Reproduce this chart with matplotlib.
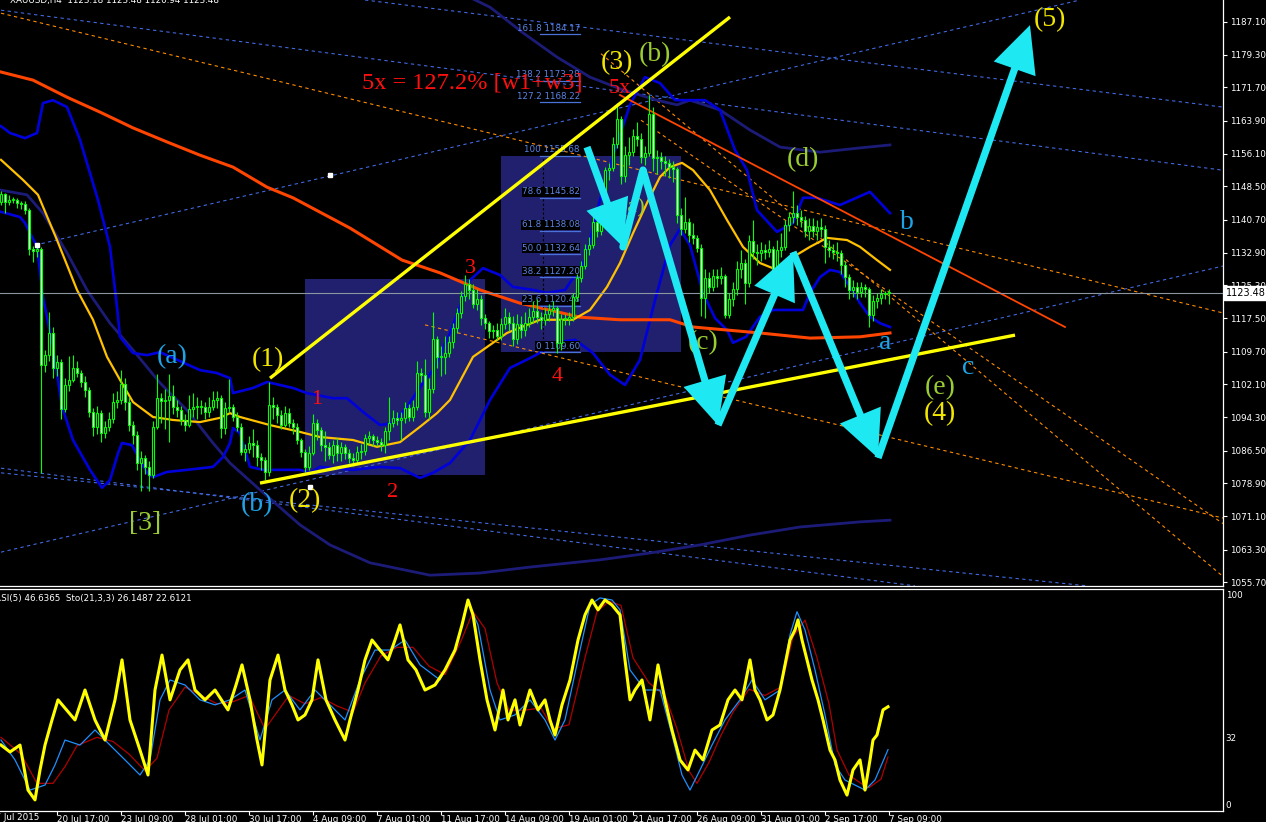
import numpy as np
import matplotlib
matplotlib.use('Agg')
import matplotlib.pyplot as plt
from matplotlib.patches import Rectangle
from matplotlib.transforms import blended_transform_factory

# ---- price bars (H4), open of each bar = previous close ----
open0 = 1144.8
closes = [
    1146.7, 1144.9, 1145.3, 1145.3, 1144.5, 1144.4, 1142.9, 1133.9, 1133.4, 1133.9,
    1106.6, 1108.9, 1114.2, 1105.8, 1107.4, 1096.2, 1101.9, 1103.1, 1106.0, 1104.8,
    1102.7, 1100.7, 1095.6, 1092.0, 1095.3, 1090.7, 1092.0, 1093.9, 1098.0, 1098.4,
    1102.1, 1097.8, 1092.5, 1090.2, 1083.5, 1084.7, 1082.6, 1080.8, 1092.1, 1098.8,
    1098.2, 1098.4, 1099.3, 1096.8, 1096.0, 1093.7, 1092.5, 1096.2, 1096.8, 1096.8,
    1096.8, 1095.6, 1096.8, 1098.5, 1098.8, 1091.7, 1096.4, 1096.8, 1094.5, 1092.1,
    1086.3, 1087.0, 1088.4, 1087.8, 1085.1, 1084.3, 1081.6, 1097.2, 1096.8, 1094.8,
    1092.5, 1095.4, 1092.9, 1092.1, 1089.0, 1086.3, 1082.7, 1086.0, 1093.1, 1091.3,
    1087.8, 1087.4, 1085.6, 1087.8, 1085.9, 1087.4, 1085.9, 1084.7, 1084.3, 1086.3,
    1086.5, 1089.4, 1089.9, 1089.0, 1088.6, 1087.8, 1091.2, 1093.1, 1094.1, 1093.7,
    1094.1, 1096.4, 1094.5, 1096.8, 1104.8, 1104.2, 1095.6, 1100.9, 1112.6, 1108.5,
    1108.5, 1109.3, 1111.9, 1115.2, 1118.9, 1122.8, 1125.6, 1124.2, 1121.0, 1122.0,
    1117.5, 1116.4, 1114.6, 1114.8, 1113.5, 1116.2, 1117.8, 1116.4, 1112.6, 1116.2,
    1114.8, 1116.4, 1117.8, 1119.3, 1117.9, 1117.1, 1118.5, 1119.6, 1119.9, 1111.7,
    1117.3, 1117.3, 1117.8, 1122.6, 1126.9, 1129.8, 1133.7, 1134.7, 1140.2, 1137.9,
    1140.0, 1152.3, 1152.7, 1158.4, 1164.2, 1150.9, 1155.8, 1156.6, 1160.3, 1159.7,
    1155.4, 1156.4, 1165.5, 1155.1, 1155.4, 1154.5, 1154.0, 1153.0, 1152.5, 1141.8,
    1138.6, 1140.2, 1137.1, 1136.3, 1134.0, 1122.2, 1126.9, 1125.0, 1127.5, 1126.9,
    1127.5, 1118.3, 1122.0, 1124.3, 1129.0, 1130.4, 1125.9, 1135.7, 1133.2, 1132.9,
    1133.6, 1133.2, 1133.7, 1128.1, 1133.6, 1134.3, 1139.4, 1141.2, 1142.2, 1141.4,
    1140.6, 1137.9, 1139.2, 1138.1, 1139.0, 1138.4, 1134.3, 1133.6, 1133.2, 1132.8,
    1130.0, 1127.3, 1124.2, 1125.0, 1123.8, 1124.8, 1124.3, 1118.3, 1121.7, 1122.2,
    1123.2, 1123.4, 1123.48]
highs = [
    1147.5, 1147.0, 1146.5, 1146.0, 1145.8, 1145.0, 1145.0, 1143.5, 1134.5, 1135.2,
    1134.2, 1110.0, 1119.1, 1115.5, 1109.0, 1108.0, 1103.5, 1108.8, 1109.0, 1107.5,
    1105.5, 1104.0, 1101.5, 1096.5, 1097.0, 1096.0, 1093.5, 1095.5, 1100.0, 1100.5,
    1105.5, 1103.5, 1099.0, 1093.5, 1091.0, 1086.5, 1085.5, 1084.0, 1093.5, 1104.5,
    1100.0, 1101.0, 1104.5, 1102.0, 1098.5, 1097.0, 1095.0, 1099.5, 1100.0, 1099.0,
    1098.5, 1098.0, 1099.0, 1100.5, 1100.5, 1099.5, 1098.0, 1103.2, 1097.5, 1095.5,
    1093.0, 1088.0, 1090.0, 1091.5, 1089.0, 1086.0, 1085.0, 1102.7, 1099.0, 1097.5,
    1096.0, 1097.0, 1096.5, 1094.0, 1093.0, 1089.5, 1087.0, 1087.5, 1095.0, 1094.0,
    1092.0, 1091.0, 1088.5, 1089.0, 1089.5, 1088.5, 1088.0, 1087.0, 1086.0, 1087.5,
    1088.0, 1090.5, 1091.0, 1090.5, 1090.0, 1089.5, 1092.0, 1099.2, 1096.0, 1095.5,
    1095.5, 1098.0, 1097.5, 1098.5, 1107.5, 1106.0, 1108.0, 1103.5, 1119.0, 1113.5,
    1111.0, 1113.5, 1113.5, 1116.5, 1120.0, 1124.0, 1127.8, 1126.8, 1125.5, 1124.5,
    1123.0, 1118.5, 1117.0, 1116.0, 1116.5, 1117.5, 1120.0, 1119.0, 1118.0, 1118.5,
    1118.0, 1119.0, 1120.0, 1121.5, 1122.0, 1119.0, 1120.0, 1121.0, 1121.5, 1120.5,
    1118.5, 1118.5, 1119.0, 1123.5, 1128.0, 1131.0, 1135.0, 1136.5, 1141.5, 1141.0,
    1142.0, 1153.0, 1154.0, 1160.0, 1168.0, 1165.0, 1158.0, 1160.0, 1162.0, 1163.5,
    1161.0, 1158.0, 1170.0, 1167.0, 1157.0, 1156.5, 1155.5, 1155.0, 1154.5, 1153.0,
    1143.5, 1146.0, 1141.0, 1140.0, 1137.0, 1135.0, 1129.0, 1128.5, 1129.0, 1129.0,
    1129.5, 1128.0, 1123.5, 1126.0, 1131.0, 1133.5, 1131.5, 1137.0, 1140.5, 1135.0,
    1135.5, 1135.0, 1136.0, 1134.5, 1136.0, 1137.5, 1140.5, 1142.5, 1147.5, 1144.0,
    1143.0, 1141.5, 1141.0, 1141.0, 1140.5, 1141.0, 1139.5, 1136.0, 1135.0, 1135.5,
    1133.5, 1131.0, 1128.0, 1126.5, 1126.0, 1126.0, 1125.5, 1125.0, 1123.0, 1123.5,
    1124.5, 1124.0, 1124.5]
lows = [
    1144.0, 1142.2, 1144.0, 1144.5, 1143.5, 1143.2, 1142.0, 1132.5, 1130.8, 1132.0,
    1081.2, 1105.0, 1107.5, 1103.5, 1104.0, 1094.0, 1095.5, 1100.5, 1102.5, 1103.8,
    1101.5, 1099.0, 1094.5, 1090.0, 1090.5, 1088.5, 1089.5, 1091.0, 1093.0, 1096.5,
    1097.5, 1096.0, 1091.0, 1088.0, 1082.0, 1077.0, 1081.0, 1077.0, 1080.0, 1091.5,
    1093.0, 1091.5, 1088.5, 1095.0, 1094.5, 1092.5, 1091.0, 1092.0, 1094.5, 1094.0,
    1095.0, 1094.0, 1094.5, 1096.0, 1096.5, 1089.5, 1090.5, 1095.5, 1093.5, 1091.0,
    1085.5, 1084.0, 1086.0, 1085.0, 1083.0, 1082.0, 1079.6, 1080.5, 1094.0, 1093.0,
    1091.5, 1092.0, 1092.0, 1090.5, 1088.0, 1085.0, 1081.5, 1082.0, 1085.5, 1089.0,
    1086.5, 1084.0, 1084.5, 1083.5, 1084.0, 1084.0, 1084.5, 1083.5, 1083.0, 1083.5,
    1084.5, 1085.5, 1088.0, 1087.5, 1087.5, 1086.5, 1086.0, 1089.0, 1092.0, 1092.5,
    1089.0, 1093.0, 1093.5, 1093.5, 1096.0, 1102.5, 1094.5, 1094.0, 1100.0, 1106.0,
    1104.0, 1104.5, 1108.5, 1110.5, 1114.0, 1117.5, 1121.5, 1122.0, 1120.0, 1119.5,
    1116.0, 1115.0, 1113.0, 1113.0, 1112.5, 1112.5, 1115.0, 1114.5, 1111.0, 1111.5,
    1113.0, 1113.5, 1115.5, 1116.5, 1116.5, 1115.0, 1116.0, 1117.0, 1118.0, 1109.3,
    1110.0, 1116.0, 1116.0, 1117.0, 1121.5, 1126.0, 1129.0, 1132.5, 1134.0, 1136.5,
    1137.0, 1139.5, 1150.0, 1152.0, 1157.5, 1149.0, 1149.5, 1153.5, 1155.5, 1158.0,
    1154.0, 1153.5, 1155.5, 1152.0, 1151.5, 1152.5, 1151.0, 1150.5, 1149.5, 1140.0,
    1137.0, 1137.5, 1135.5, 1135.0, 1133.0, 1118.0, 1117.5, 1123.5, 1124.0, 1125.0,
    1125.5, 1117.5, 1117.5, 1120.5, 1123.0, 1127.0, 1121.0, 1125.0, 1131.5, 1130.0,
    1131.0, 1131.5, 1132.0, 1126.5, 1127.0, 1132.0, 1133.5, 1138.0, 1140.0, 1139.5,
    1139.0, 1136.5, 1136.0, 1136.5, 1136.0, 1136.5, 1130.5, 1132.0, 1131.5, 1131.0,
    1128.0, 1125.0, 1122.0, 1122.5, 1122.0, 1122.5, 1122.5, 1115.5, 1117.0, 1120.0,
    1121.0, 1122.0, 1120.94]
assert len(closes) == len(highs) == len(lows), (len(closes), len(highs), len(lows))

# ---- indicator lines: (bar, price) ----
ma_slow_x = [0, 8, 16.5, 24.75, 33, 41.5, 49.75, 58, 66.5, 73, 87.25, 100.25, 109.75,
             119.75, 129.75, 144.75, 154.75, 167.25, 173, 189.75, 202.25, 214.75, 222.25]
ma_slow_y = [1175.3, 1173.4, 1169.4, 1165.9, 1162.2, 1158.9, 1155.8, 1153.0, 1148.3, 1145.8,
             1138.7, 1131.2, 1128.2, 1124.2, 1121.1, 1117.8, 1117.2, 1117.2, 1115.5, 1114.1,
             1112.9, 1113.2, 1114.1]
ma_fast_x = [0, 5.5, 9.25, 14, 19, 23, 26.5, 29.75, 33, 38, 43, 49.75, 54.75, 57.25, 59.75,
             67.25, 74.75, 79.75, 88, 94, 99.75, 104.75, 109, 112.25, 118, 126.5, 134.75,
             143, 147.25, 151.5, 154.75, 158, 161.5, 164.75, 167.25, 170.25, 173, 177.25,
             181.5, 185.5, 189.75, 194, 198, 202.25, 206.5, 211.5, 214.75, 219, 222.25]
ma_fast_y = [1154.7, 1150.0, 1146.5, 1135.9, 1124.2, 1117.2, 1108.5, 1103.1, 1097.9, 1094.4,
             1093.7, 1093.2, 1094.2, 1095.3, 1094.4, 1092.5, 1090.9, 1089.7, 1089.0, 1087.4,
             1088.5, 1092.1, 1095.3, 1098.4, 1108.5, 1114.1, 1117.2, 1117.2, 1119.5, 1124.9,
             1130.5, 1137.5, 1144.6, 1150.7, 1153.0, 1154.0, 1152.3, 1147.6, 1140.6, 1134.3,
             1130.5, 1128.9, 1131.9, 1134.3, 1136.4, 1135.9, 1134.3, 1131.2, 1128.9]
env_low_x = [0, 6.5, 10.5, 16.5, 21.5, 27.25, 33, 39.75, 46.5, 53, 57.25, 64.75, 74.75,
             82.25, 92.25, 107.25, 119.75, 132.25, 149.75, 162.25, 174.75, 187.25, 199.75,
             214.75, 222.25]
env_low_y = [1147.6, 1146.5, 1142.2, 1132.9, 1124.2, 1116.4, 1110.1, 1102.4, 1096.0, 1088.3,
             1083.6, 1077.3, 1069.1, 1064.4, 1060.2, 1057.3, 1057.8, 1059.2, 1060.9, 1062.5,
             1064.4, 1066.7, 1068.6, 1069.8, 1070.2]
env_up_x = [113.5, 122.25, 130.5, 139, 147.25, 155.5, 164, 169, 172.25, 179.75, 187.25,
            194.75, 204.75, 214.75, 222.25]
env_up_y = [1194.5, 1190.5, 1184.5, 1178.8, 1174.1, 1171.1, 1168.7, 1167.6, 1168.7, 1166.4,
            1161.7, 1157.7, 1156.5, 1157.5, 1158.2]
bb_up_x = [0, 2.25, 6, 9, 10.5, 13, 16.5, 19.75, 22.25, 24.25, 27.25, 29, 29.75, 33, 36.5,
           39.75, 49.75, 54, 57.25, 58, 63, 66.5, 73, 76.5, 83, 86.5, 90.5, 94.75, 98, 101.5,
           104.75, 108, 112.25, 117.25, 120.5, 124.75, 128, 133, 136.5, 141, 146, 149.75,
           153.5, 157.25, 161, 164.75, 168.5, 176, 179.75, 183.5, 186.5, 189, 194, 198,
           200.5, 204, 209.75, 217.25, 222.25]
bb_up_y = [1162.6, 1161.0, 1159.8, 1161.0, 1168.0, 1168.7, 1167.1, 1159.4, 1151.6, 1145.3,
           1134.3, 1120.2, 1113.2, 1109.4, 1108.9, 1109.6, 1105.4, 1104.7, 1103.5, 1100.0,
           1101.2, 1102.6, 1101.2, 1100.0, 1098.8, 1098.8, 1095.6, 1092.5, 1093.0, 1096.7,
           1101.4, 1105.4, 1114.1, 1126.5, 1129.3, 1127.7, 1124.9, 1124.2, 1123.5, 1124.2,
           1131.2, 1145.3, 1157.0, 1167.6, 1174.1, 1172.7, 1168.7, 1168.7, 1166.4, 1157.0,
           1152.3, 1142.9, 1137.8, 1139.9, 1145.8, 1145.8, 1144.1, 1147.2, 1142.2]
bb_low_x = [0, 4.75, 6, 9, 10.5, 13, 15.25, 18, 22.25, 25.25, 27.25, 29.25, 30.25, 32.75,
            36.5, 38, 41.5, 46.5, 53, 55.5, 57.25, 58, 59.75, 62.25, 65.5, 74.75, 77.25,
            79.75, 88, 94.75, 99.75, 104.75, 108, 112.25, 117.25, 122.25, 127.25, 132.25,
            139.75, 143.5, 148, 152.25, 156, 159.75, 163.5, 167.25, 169.75, 172.25, 175.5,
            178.5, 181.5, 183, 186.25, 189.75, 193, 200.5, 202.25, 204.75, 207.25, 209.75,
            212.25, 214.75, 217.25, 219.75, 222.25]
bb_low_y = [1142.5, 1141.3, 1139.9, 1134.3, 1122.5, 1110.8, 1096.8, 1089.0, 1082.0, 1077.8,
            1079.6, 1085.9, 1088.3, 1087.8, 1081.3, 1080.3, 1081.5, 1082.0, 1082.7, 1085.0,
            1088.3, 1091.8, 1090.6, 1082.7, 1082.0, 1082.0, 1081.3, 1082.7, 1082.0, 1082.7,
            1082.4, 1080.1, 1081.3, 1083.6, 1089.0, 1098.4, 1105.9, 1108.2, 1112.0, 1112.5,
            1109.4, 1104.3, 1101.9, 1107.8, 1121.8, 1134.7, 1138.5, 1134.7, 1123.5, 1117.6,
            1114.8, 1111.8, 1113.2, 1117.9, 1119.5, 1119.5, 1123.5, 1127.2, 1128.9, 1128.4,
            1124.9, 1121.1, 1117.9, 1116.4, 1115.5]

# ---- oscillators (lower pane) ----
rsi_x = [0, 2.25, 4.75, 6.75, 8.5, 9.75, 11, 12.75, 14.25, 18.5, 21, 23.5, 26, 28.5, 30.25,
         32.25, 34.75, 36.75, 38.5, 40.25, 42.25, 44.75, 46.75, 48.5, 51, 53.5, 56.75, 58.75,
         60.25, 62.25, 64, 65.25, 67.25, 69.25, 71, 72.75, 74.25, 76, 77.75, 79.25, 81.25,
         83.5, 86, 87.25, 89.25, 91, 92.75, 94.75, 96.75, 98.5, 99.75, 101.75, 103.75, 106,
         108.5, 111, 113.5, 115.25, 116.75, 118, 119.75, 121.5, 123.5, 125.5, 126.75, 128.5,
         129.75, 132.25, 134.25, 136, 137.25, 138.5, 140.25, 142.25, 144.25, 146, 147.75,
         149.25, 151, 152.75, 154.75, 156, 157.25, 158.5, 160.25, 162.25, 164.25, 166,
         167.75, 169.75, 171.75, 173.5, 175.5, 177.75, 179.75, 181.75, 183.5, 185.25,
         187.25, 188.5, 189.75, 191.5, 193, 194.75, 196, 197.25, 198.5, 199.25, 200.25,
         201.5, 202.75, 204.25, 205.5, 207.25, 208.5, 209.75, 211.5, 213, 214.75, 216,
         217.25, 218, 219, 220.5, 221.75]
rsi_v = [28.3, 25.0, 28.3, 6.8, 2.1, 16.4, 28.3, 40.3, 49.9, 40.3, 54.6, 40.3, 30.7, 49.9,
         69.0, 40.3, 25.9, 14.0, 54.6, 71.3, 49.9, 64.2, 69.0, 54.6, 49.9, 54.6, 45.1, 57.0,
         66.6, 49.9, 30.7, 18.8, 59.4, 71.3, 54.6, 47.5, 40.3, 42.7, 49.9, 69.0, 49.9, 40.3,
         30.7, 40.3, 54.6, 69.0, 78.5, 73.7, 69.0, 78.5, 85.7, 69.0, 64.2, 54.6, 57.0, 64.2,
         73.7, 85.7, 97.6, 90.5, 69.0, 49.9, 35.5, 54.6, 40.3, 49.9, 37.9, 54.6, 45.1, 49.9,
         40.3, 33.1, 47.5, 59.4, 78.5, 90.5, 97.6, 92.9, 97.6, 95.2, 90.5, 69.0, 49.9, 54.6,
         59.4, 40.3, 66.6, 49.9, 35.5, 21.2, 16.4, 25.9, 21.2, 35.5, 37.9, 49.9, 54.6, 49.9,
         69.0, 54.6, 49.9, 40.3, 42.7, 54.6, 66.6, 78.5, 83.3, 88.1, 78.5, 69.0, 59.4, 49.9,
         40.3, 25.9, 21.2, 11.6, 4.4, 16.4, 21.2, 6.8, 21.2, 30.7, 33.1, 45.1, 46.6]
sto_x = [0, 3.5, 7.25, 11, 13.5, 16, 19.75, 23.5, 27.25, 31, 34.75, 37.25, 39.75, 42.25, 46,
         49.75, 53.5, 57.25, 61, 64.75, 67.75, 71, 74.75, 78.5, 82.25, 86, 89.75, 93.5,
         97.25, 101, 104.75, 109.75, 113.5, 116.75, 119.25, 122.25, 124.75, 128.5, 132.25,
         136, 138.5, 141, 144.75, 147.25, 149.75, 152.75, 154.75, 157.25, 161, 164.75,
         167.75, 170.25, 172.25, 174.75, 177.75, 181, 184.75, 187.75, 191, 194.75, 197.25,
         199, 201, 203.5, 206, 208.5, 211, 213.5, 216, 218.5, 221.75]
sto_main = [30.7, 21.2, 6.8, 9.2, 18.8, 30.7, 28.3, 35.5, 28.3, 21.2, 14.0, 21.2, 49.9, 59.4,
            57.0, 49.9, 47.5, 49.9, 54.6, 30.7, 49.9, 54.6, 45.1, 54.6, 47.5, 40.3, 59.4, 73.7,
            73.7, 78.5, 66.6, 59.4, 73.7, 96.7, 85.7, 54.6, 40.3, 42.7, 49.9, 40.3, 30.7, 40.3,
            73.7, 95.2, 98.6, 97.6, 92.9, 64.2, 54.6, 54.6, 33.1, 14.0, 6.8, 16.4, 28.3, 40.3,
            49.9, 59.4, 49.9, 54.6, 81.0, 92.0, 83.3, 64.2, 42.7, 18.8, 11.6, 9.2, 6.8, 11.6,
            26.1]
sig_x = [0, 5, 9, 13, 16, 19, 24, 28, 32, 36, 39, 42, 46, 50, 54, 58, 62, 66, 69, 72, 76,
         80, 84, 88, 91, 95, 99, 103, 107, 111, 115, 118, 121, 124, 127, 131, 135, 138, 142,
         146, 149, 152, 155, 158, 162, 166, 169, 172, 174, 177, 180, 183, 187, 191, 195, 198,
         201, 204, 207, 209, 212, 215, 217, 220, 221.75]
sig_v = [32, 24, 10, 10, 18, 28, 32, 30, 24, 16, 22, 45, 56, 52, 48, 49, 52, 36, 44, 52, 48,
         51, 47, 44, 58, 71, 75, 75, 66, 62, 78, 92, 84, 58, 45, 45, 46, 36, 38, 70, 92, 97,
         95, 70, 58, 52, 36, 16, 10, 20, 33, 44, 55, 52, 56, 80, 88, 70, 48, 26, 14, 10, 8,
         12, 22.6]

# ---- drawn objects: trend lines (bar, price) pairs ----
blue_dash = [((0, 1189.8), (305.25, 1152.3)), ((91, 1192.19), (305.25, 1167.1)),
             ((8.5, 1134.7), (269.75, 1192.19)), ((0, 1062.7), (305.5, 1129.8)),
             ((0, 1082.4), (228.5, 1054.8)), ((0, 1081.3), (271.5, 1054.8))]
orange_dash = [((0, 1189.1), (305.5, 1118.8)), ((106, 1116.0), (305.5, 1070.7)),
               ((150, 1179.6), (305.5, 1057.0)), ((160, 1164.0), (305.5, 1069.4))]
yellow_lines = [((67.25, 1103.5), (182.25, 1188.2)), ((64.75, 1078.9), (253.5, 1113.6))]
red_line = ((154.75, 1169.9), (266, 1115.5))
zones = [(76, 121, 1080.8, 1126.8), (125, 170, 1109.6, 1155.68)]
fib_ratio = ['161.8', '138.2', '127.2', '100', '78.6', '61.8', '50.0', '38.2', '23.6', '0']
fib_price = [1184.17, 1173.28, 1168.22, 1155.68, 1145.82, 1138.08, 1132.64, 1127.20, 1120.48, 1109.60]
wave_path = [(146.5, 1157.7), (155.5, 1134.3), (160.5, 1152.3), (179.25, 1092.5),
             (198, 1133.1), (219.25, 1084.8), (257.25, 1186.3)]
labels = [
    ('(a)', 42.75, 1108.5, '#1fa3e6', 20), ('(1)', 66.75, 1107.8, '#f2e600', 20),
    ('1', 79, 1098.4, '#ff1010', 16), ('(b)', 64, 1073.8, '#1fa3e6', 20),
    ('(2)', 76, 1074.9, '#f2e600', 20), ('[3]', 36, 1069.5, '#9acd32', 20),
    ('2', 98, 1076.6, '#ff1010', 16), ('3', 117.25, 1129.3, '#ff1010', 16),
    ('4', 139, 1104.0, '#ff1010', 16), ('5x', 154.75, 1171.5, '#ff1010', 16),
    ('(3)', 154, 1177.6, '#f2e600', 20), ('(b)', 163.5, 1179.3, '#9acd32', 20),
    ('(a)', 157.75, 1143.4, '#9acd32', 16), ('(c)', 175.5, 1111.8, '#9acd32', 20),
    ('(d)', 200.5, 1154.7, '#9acd32', 20), ('b', 226.5, 1140.1, '#1fa3e6', 20),
    ('a', 221, 1111.8, '#1fa3e6', 20), ('c', 241.75, 1106.1, '#1fa3e6', 20),
    ('(e)', 234.75, 1101.2, '#9acd32', 20), ('(4)', 234.75, 1095.3, '#f2e600', 20),
    ('(5)', 262.25, 1187.5, '#f2e600', 20)]
dots = [(9, 1134.7), (82.25, 1151.2), (77.25, 1078.0)]
price_ticks = [1187.1, 1179.3, 1171.7, 1163.9, 1156.1, 1148.5, 1140.7, 1132.9, 1125.3,
               1117.5, 1109.7, 1102.1, 1094.3, 1086.5, 1078.9, 1071.1, 1063.3, 1055.7]
date_labels = ['20 Jul 17:00', '23 Jul 09:00', '28 Jul 01:00', '30 Jul 17:00', '4 Aug 09:00',
               '7 Aug 01:00', '11 Aug 17:00', '14 Aug 09:00', '19 Aug 01:00', '21 Aug 17:00',
               '26 Aug 09:00', '31 Aug 01:00', '2 Sep 17:00', '7 Sep 09:00']
last_price = 1123.48

W, H = 1266, 822
fig = plt.figure(figsize=(W / 100, H / 100), dpi=100, facecolor='black')
ax = fig.add_axes([0, (H - 585.5) / H, 1223 / W, 585.5 / H], facecolor='black')
ax2 = fig.add_axes([0, (H - 810.7) / H, 1223 / W, (810.7 - 588.5) / H], facecolor='black')
for a in (ax, ax2):
    a.set_xlim(-0.25, 305.5)
    a.spines['left'].set_visible(False)
    for s in ('right', 'bottom', 'top'):
        a.spines[s].set_color('white')
        a.spines[s].set_linewidth(0.9)
ax.spines['top'].set_visible(False)
ax.set_ylim(1054.88, 1192.19)
ax2.set_ylim(-3.06, 103.1)

serif = ['Liberation Serif', 'DejaVu Serif']
DASH = (0, (3, 3))

# background zones
for x0, x1, y0, y1 in zones:
    ax.add_patch(Rectangle((x0, y0), x1 - x0, y1 - y0, facecolor='#20206e', edgecolor='none', zorder=0.5))

for (p, q) in blue_dash:
    ax.plot([p[0], q[0]], [p[1], q[1]], color='#4169e1', lw=0.8, ls=DASH, zorder=1)
for (p, q) in orange_dash:
    ax.plot([p[0], q[0]], [p[1], q[1]], color='#ff8c00', lw=0.8, ls=DASH, zorder=1)

ax.plot(env_low_x, env_low_y, color='#1c1c78', lw=2.0, zorder=2)
ax.plot(env_up_x, env_up_y, color='#1c1c78', lw=2.0, zorder=2)
ax.plot(bb_up_x, bb_up_y, color='#0000dd', lw=1.9, zorder=2)
ax.plot(bb_low_x, bb_low_y, color='#0000dd', lw=1.9, zorder=2)
ax.plot(ma_slow_x, ma_slow_y, color='#ff4500', lw=2.2, zorder=2)
ax.plot(ma_fast_x, ma_fast_y, color='#ffc000', lw=1.6, zorder=2)
ax.plot([red_line[0][0], red_line[1][0]], [red_line[0][1], red_line[1][1]], color='#ff4500', lw=1.3, zorder=2)

# fibonacci labels
ax.plot([135.5, 135.5], [fib_price[-1], fib_price[3]], color='black', lw=0.8, ls=(0, (2, 2)), zorder=2.5)
for r, p in zip(fib_ratio, fib_price):
    ax.plot([134.75, 144.75], [p, p], color='#4a72d8', lw=0.9, zorder=2.5)
    ax.text(144.75, p + 0.3, f'{r} {p:.2f}', color='#5b84e6', fontsize=6.3, ha='right', va='bottom', zorder=2.6,
            bbox=dict(facecolor='black', edgecolor='none', pad=0.3) if p < 1150 else None)

# candles
c = np.array(closes)
o = np.array([open0] + closes[:-1])
hi = np.array(highs)
lo = np.array(lows)
x = np.arange(len(c))
bull = c >= o
ax.vlines(x, lo, hi, color='#00ff00', lw=0.8, zorder=3)
ax.bar(x, np.maximum(np.abs(c - o), 0.2), bottom=np.minimum(o, c), width=0.5,
       color=np.where(bull, 'black', 'white'), edgecolor='#00ff00', linewidth=0.8, zorder=4)

ax.axhline(last_price, color='#8c96a0', lw=0.8, zorder=2.8)

for (p, q) in yellow_lines:
    ax.plot([p[0], q[0]], [p[1], q[1]], color='#ffff00', lw=2.4, zorder=5, solid_capstyle='butt')

for d in dots:
    ax.plot(d[0], d[1], 's', color='white', ms=2.2, zorder=5)

ax.text(117.75, 1172.7, '5x = 127.2% [w1+w3]', color='#ff1010', fontsize=17.5, family=serif,
        ha='center', va='center', zorder=6)
for t, bx, py, col, fs in labels:
    ax.text(bx, py, t, color=col, fontsize=fs, family=serif, ha='center', va='center', zorder=6)

# cyan wave projection
cyan = '#1ee8f2'
heads = [True, False, True, True, True, True]
for (p, q), h in zip(zip(wave_path[:-1], wave_path[1:]), heads):
    if h:
        ax.annotate('', xy=q, xytext=p, zorder=7,
                    arrowprops=dict(arrowstyle='simple,head_length=1.15,head_width=1.1,tail_width=0.18',
                                    color=cyan, mutation_scale=29, shrinkA=0, shrinkB=0, lw=0))
    else:
        ax.plot([p[0], q[0]], [p[1], q[1]], color=cyan, lw=5.3, solid_capstyle='round', zorder=7)

# right price axis
ax.yaxis.tick_right()
ax.set_yticks(price_ticks)
ax.set_yticklabels([f'{v:.2f}' for v in price_ticks])
ax.tick_params(axis='y', colors='white', labelsize=6.3, length=3, width=0.8, pad=2)
ax.tick_params(axis='x', bottom=False, labelbottom=False)
tr = blended_transform_factory(ax.transAxes, ax.transData)
ax.text(1.0025, last_price, f'{last_price:.2f}', transform=tr, color='black', fontsize=7,
        va='center', ha='left', zorder=10, clip_on=False,
        bbox=dict(facecolor='white', edgecolor='white', pad=1.5))

# lower pane
ax2.plot(sig_x, sig_v, color='#b00000', lw=0.9, zorder=2)
ax2.plot(sto_x, sto_main, color='#1e90ff', lw=0.9, zorder=3)
ax2.plot(rsi_x, rsi_v, color='#ffff00', lw=2.2, zorder=4)
ax2.yaxis.tick_right()
ax2.set_yticks([0, 32, 100])
ax2.set_yticklabels(['0', '32', '100'])
ax2.tick_params(axis='y', colors='white', labelsize=6.3, length=0, pad=2)
ax2.set_xticks([14 + 16 * k for k in range(len(date_labels))])
ax2.set_xticklabels(date_labels, ha='left')
ax2.tick_params(axis='x', colors='white', labelsize=6.3, length=3, width=0.8, pad=0)
ax2.text(-2.8, -0.012, '17 Jul 2015', transform=blended_transform_factory(ax2.transData, ax2.transAxes),
         color='white', fontsize=6.3, ha='left', va='top', clip_on=False)
ax2.text(-0.004, 0.955, 'RSI(5) 46.6365  Sto(21,3,3) 26.1487 22.6121', transform=ax2.transAxes,
         color='white', fontsize=6.3, ha='left', va='center')

fig.text(0.008, 0.9995, 'XAUUSD,H4  1123.18 1123.48 1120.94 1123.48', color='white', fontsize=6.3,
         ha='left', va='center')

fig.savefig('out.png', dpi=100, facecolor='black')
